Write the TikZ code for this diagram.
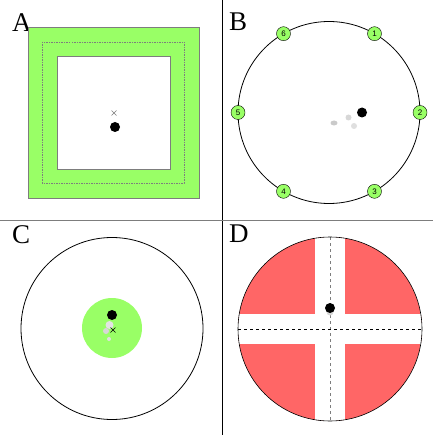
\documentclass[tikz,border=0pt]{standalone}
\usepackage{fontspec}
\setmainfont{Liberation Serif}
\usepackage{tikz}
\usetikzlibrary{positioning}
\definecolor{PadGreen}{RGB}{153,255,102}
\definecolor{ZoneRed}{RGB}{255,102,102}
\definecolor{EdgeGray}{RGB}{125,125,125}
\definecolor{GhostGray}{RGB}{215,215,215}

\begin{document}
\begin{tikzpicture}[x=1pt,y=-1pt,
    panel/.style={font=\fontsize{27}{27}\selectfont,inner sep=0pt,anchor=north west},
    station/.style={circle,draw,fill=PadGreen,minimum size=14pt,inner sep=0pt,
      font=\fontspec{Liberation Sans}\fontsize{8}{8}\selectfont}]
  \useasboundingbox (0,0) rectangle (433,435);
  % dividers
  \draw[line width=1pt] (222,0) -- (222,435);
  \draw[EdgeGray,line width=1pt] (0,220) -- (433,220);

  % A: square pad
  \node[panel] (labA) at (12,13) {A};
  \draw[EdgeGray,fill=PadGreen] (28,27) rectangle (199,198);
  \draw[EdgeGray,dash pattern=on 1.5pt off 1pt] (42,42) rectangle (184,183);
  \draw[EdgeGray,fill=white] (57,56) rectangle (170,169);
  \draw[EdgeGray,line width=0.6pt] (111.5,110.5) -- (116.5,115.5) (111.5,115.5) -- (116.5,110.5);
  \fill (115,127) circle (5);

  % B: ring with six stations
  \node[panel] (labB) at (229,13) {B};
  \coordinate (ringB) at (329,112.5);
  \draw[line width=0.8pt] (ringB) circle (91);
  \begin{scope}[shift={(ringB)}]
    \foreach \i/\a in {1/-60,2/0,3/60,4/120,5/180,6/240}
      \node[station] (s\i) at (\a:91) {\i};
  \end{scope}
  \fill[GhostGray!85!gray] (334,123) ellipse (3.5 and 2.5);
  \fill[GhostGray] (348.5,117.5) circle (3);
  \fill[GhostGray!80] (354,126) circle (3);
  \fill (362,112.5) circle (5);

  % C: ring with central pad
  \node[panel] (labC) at (12,225) {C};
  \draw[line width=0.8pt] (112,328.5) circle (91);
  \fill[PadGreen] (112,328) circle (30);
  \fill[GhostGray!80] (109,339) circle (2);
  \fill[GhostGray] (106,331) circle (3);
  \fill[GhostGray!70] (109.5,325) circle (4);
  \draw[line width=0.6pt] (110.5,327.5) -- (115.5,332.5) (110.5,332.5) -- (115.5,327.5);
  \fill (112,315) circle (5);

  % D: quadrants
  \node[panel] (labD) at (229,225) {D};
  \coordinate (ringD) at (330,329);
  \begin{scope}
    \clip (ringD) circle (92);
    \fill[ZoneRed] (ringD) circle (92);
    \fill[white] (315,230) rectangle (345,430);
    \fill[white] (230,314) rectangle (430,344);
  \end{scope}
  \draw[EdgeGray,dashed,line width=0.6pt] (330,237) -- (330,421);
  \draw[dashed,line width=0.6pt] (238,329) -- (422,329);
  \draw[line width=0.6pt] (ringD) circle (92);
  \fill[GhostGray] (330,312) circle (3.5);
  \fill (330,308) circle (5);
\end{tikzpicture}
\end{document}
